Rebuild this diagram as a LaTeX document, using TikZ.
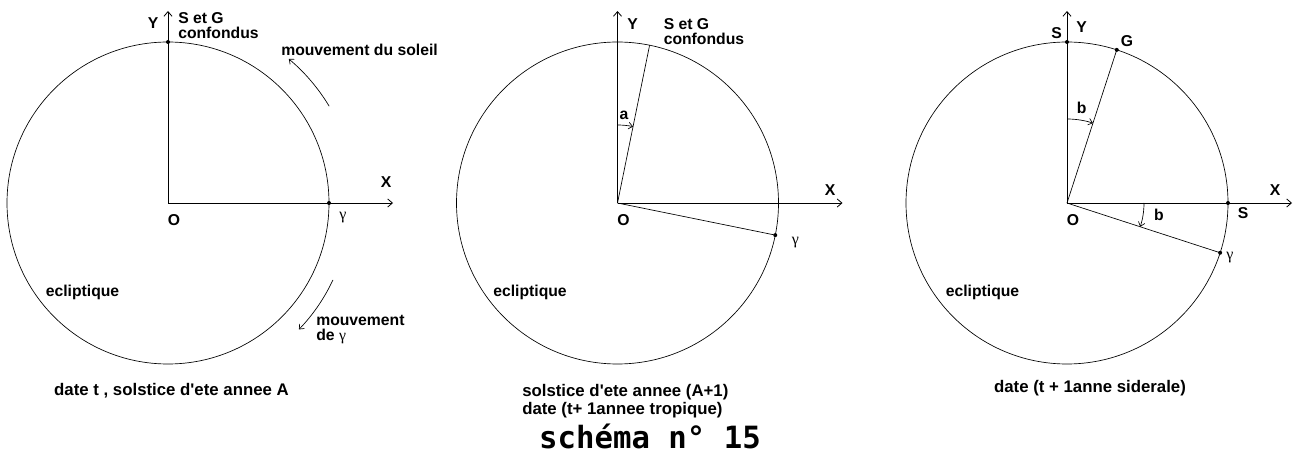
\documentclass[tikz,border=0pt]{standalone}
\usepackage{fontspec}
\newfontfamily\lblfont{Liberation Sans}
\newfontfamily\gfont{Liberation Serif}
\newfontfamily\schemafont{DejaVu Sans Mono}
\usepackage{tikz}
\usetikzlibrary{arrows.meta}

\begin{document}
\begin{tikzpicture}[x=0.75pt, y=0.75pt,
    lbl/.style={font=\lblfont\fontsize{11.8}{11.3}\selectfont\bfseries, inner sep=0pt},
    legende/.style={font=\lblfont\fontsize{12.6}{13.5}\selectfont\bfseries, inner sep=0pt},
    gam/.style={font=\gfont\fontsize{12}{12}\selectfont, inner sep=0pt},
    axe/.style={-{Straight Barb[length=3.5pt,width=6pt]}, line width=0.6pt},
    fleche/.style={-{Straight Barb[length=3pt,width=5pt]}, line width=0.5pt},
    ptdot/.style={circle, fill, inner sep=0pt, minimum size=3pt}]
  \useasboundingbox (0,0) rectangle (1293,454);
  \foreach \p/\cx/\ex in {1/168/-85.5, 2/617.5/-87.5, 3/1067/-84.5} {
    \begin{scope}[shift={(\cx,251)}]
      \coordinate (O\p) at (0,0);
      \coordinate (Y\p) at (0,192);
      \coordinate (X\p) at (225,0);
      \draw[line width=0.5pt] (O\p) circle[radius=161];
      \draw[axe] (O\p) -- (Y\p);
      \draw[axe] (O\p) -- (X\p);
      \node[lbl] (nO\p) at (6,-17) {O};
      \node[lbl] (ecl\p) at (\ex,-89) {ecliptique};
    \end{scope}
  }
  \begin{scope}[shift={(168,251)}]
    \node[ptdot] (S1) at (90:161) {};
    \node[ptdot] (g1) at (0:161) {};
    \node[lbl] (nY1) at (-15,180) {Y};
    \node[lbl, align=left, anchor=west] (SG1) at (10,177.5) {S et G\\confondus};
    \node[lbl] (nX1) at (218,21) {X};
    \node[gam] (ng1) at (175,-15) {γ};
    \node[lbl, anchor=west] (sol1) at (113,153) {mouvement du soleil};
    \coordinate (ms1) at (31:188);
    \draw[fleche] (ms1) arc[start angle=31, end angle=50, radius=188];
    \coordinate (mg1) at (-25:182);
    \draw[fleche] (mg1) arc[start angle=-25, end angle=-44, radius=182];
    \node[lbl, align=left, anchor=west] (mvg1) at (148,-126.5) {mouvement\\de {\gfont\mdseries γ}};
    \node[legende] (cap1) at (3.5,-188) {date t , solstice d'ete annee A};
  \end{scope}
  \begin{scope}[shift={(617.5,251)}]
    \coordinate (S2) at (78.5:161);
    \node[ptdot] (g2) at (-11.5:161) {};
    \draw[line width=0.5pt] (O2) -- (S2);
    \draw[line width=0.5pt] (O2) -- (g2.center);
    \coordinate (a2) at (90:78);
    \draw[fleche] (a2) arc[start angle=90, end angle=78.5, radius=78];
    \node[lbl] (na2) at (6.5,88) {a};
    \node[lbl] (nY2) at (15,179) {Y};
    \node[lbl, align=left, anchor=west] (SG2) at (46,171.5) {S et G\\confondus};
    \node[lbl] (nX2) at (212.5,13) {X};
    \node[gam] (ng2) at (178,-40) {γ};
    \node[legende, align=left, anchor=west] (cap2) at (-95.5,-198)
      {solstice d'ete annee (A+1)\\date (t+ 1annee tropique)};
    \node[font=\schemafont\bfseries\fontsize{23}{23}\selectfont, inner sep=0pt] (titre)
      at (32.5,-233) {schéma n° 15};
  \end{scope}
  \begin{scope}[shift={(1067,251)}]
    \node[ptdot] (S3) at (90:161) {};
    \node[ptdot] (G3) at (72:161) {};
    \node[ptdot] (Sx3) at (0:161) {};
    \node[ptdot] (g3) at (-18:161) {};
    \draw[line width=0.5pt] (O3) -- (G3.center);
    \draw[line width=0.5pt] (O3) -- (g3.center);
    \coordinate (b3) at (90:84);
    \draw[fleche] (b3) arc[start angle=90, end angle=72, radius=84];
    \coordinate (bb3) at (0:77);
    \draw[fleche] (bb3) arc[start angle=0, end angle=-18, radius=77];
    \node[lbl] (nb3) at (14.7,95) {b};
    \node[lbl] (nbb3) at (92,-12) {b};
    \node[lbl] (nS3) at (-10.3,170) {S};
    \node[lbl] (nY3) at (14.7,176) {Y};
    \node[lbl] (nG3) at (60,162.3) {G};
    \node[lbl] (nSx3) at (176,-10) {S};
    \node[lbl] (nX3) at (208,13) {X};
    \node[gam] (ng3) at (163,-55) {γ};
    \node[legende] (cap3) at (23,-185) {date (t + 1anne siderale)};
  \end{scope}
\end{tikzpicture}
\end{document}
